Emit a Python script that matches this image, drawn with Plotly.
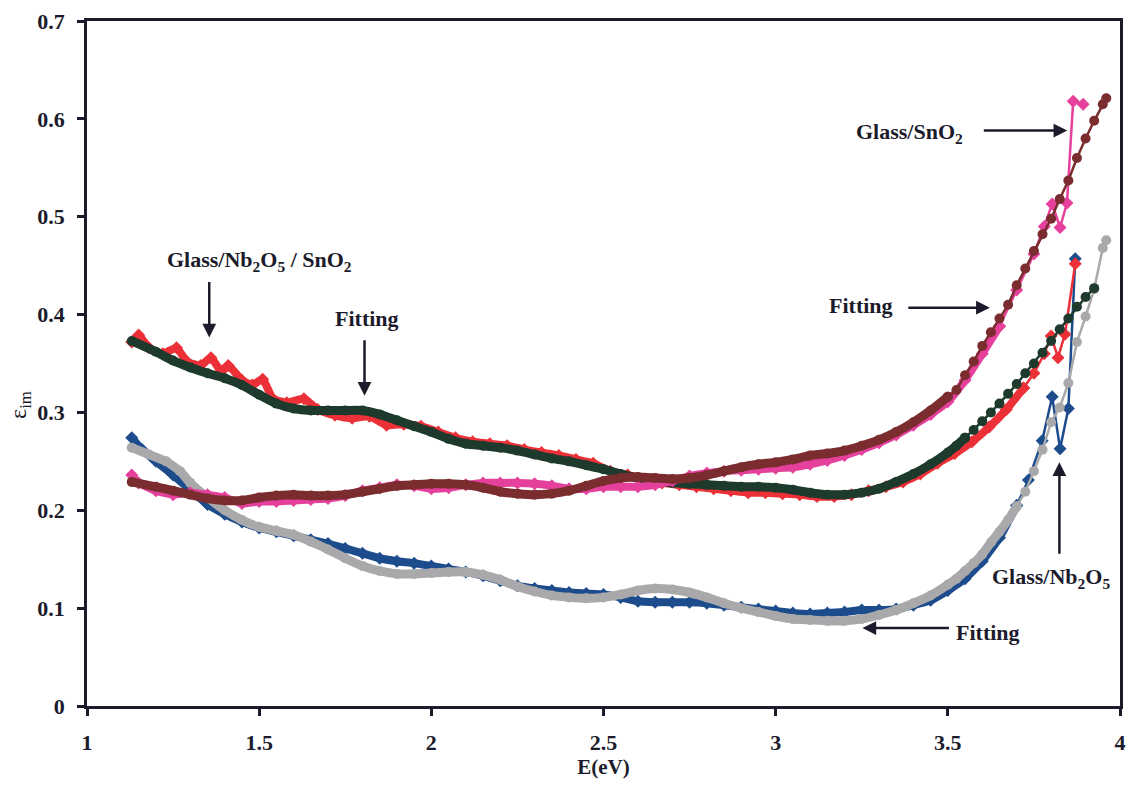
import plotly.graph_objects as go

# Photon energy grid (eV) and imaginary dielectric function values
# --- Glass/Nb2O5/SnO2: measured data and fitting ---
E_nbsn_data = [1.13, 1.15, 1.18, 1.22, 1.26, 1.29, 1.33, 1.36, 1.39, 1.41, 1.45, 1.48, 1.51, 1.54,
               1.58, 1.63, 1.67, 1.72, 1.77, 1.82, 1.87, 1.92, 1.97, 2.02, 2.07, 2.12, 2.17, 2.22,
               2.27, 2.32, 2.37, 2.42, 2.47, 2.52, 2.57, 2.62, 2.67, 2.72, 2.77, 2.82, 2.87, 2.92,
               2.97, 3.02, 3.07, 3.12, 3.17, 3.22, 3.27, 3.32, 3.37, 3.42, 3.47, 3.52, 3.57, 3.62,
               3.67, 3.72, 3.75, 3.78, 3.80, 3.82, 3.84, 3.87]
eps_nbsn_data = [0.372, 0.379, 0.366, 0.360, 0.366, 0.352, 0.348, 0.356, 0.342, 0.348, 0.333, 0.328,
                 0.334, 0.314, 0.310, 0.314, 0.303, 0.297, 0.294, 0.296, 0.287, 0.288, 0.286, 0.280,
                 0.274, 0.270, 0.268, 0.266, 0.262, 0.259, 0.256, 0.252, 0.248, 0.240, 0.236, 0.232,
                 0.228, 0.226, 0.224, 0.222, 0.220, 0.218, 0.218, 0.217, 0.216, 0.214, 0.214, 0.216,
                 0.220, 0.224, 0.229, 0.237, 0.248, 0.258, 0.270, 0.285, 0.303, 0.325, 0.340, 0.360,
                 0.378, 0.356, 0.380, 0.452]

E_nbsn_fit = [1.13, 1.20, 1.25, 1.30, 1.35, 1.40, 1.45, 1.50, 1.55, 1.60, 1.65, 1.70, 1.75, 1.80,
              1.85, 1.90, 1.95, 2.00, 2.05, 2.10, 2.15, 2.20, 2.25, 2.30, 2.35, 2.40, 2.45, 2.50,
              2.55, 2.60, 2.65, 2.70, 2.75, 2.80, 2.85, 2.90, 2.95, 3.00, 3.05, 3.10, 3.15, 3.20,
              3.25, 3.30, 3.35, 3.40, 3.45, 3.50, 3.525, 3.55, 3.575, 3.60, 3.625, 3.65, 3.675,
              3.70, 3.725, 3.75, 3.775, 3.80, 3.825, 3.85, 3.875, 3.90, 3.925]
eps_nbsn_fit = [0.373, 0.362, 0.353, 0.346, 0.340, 0.335, 0.328, 0.318, 0.309, 0.304, 0.302, 0.302,
                0.302, 0.302, 0.298, 0.292, 0.286, 0.280, 0.273, 0.268, 0.266, 0.264, 0.261, 0.257,
                0.253, 0.250, 0.246, 0.242, 0.237, 0.233, 0.230, 0.228, 0.227, 0.226, 0.225, 0.224,
                0.224, 0.223, 0.221, 0.218, 0.216, 0.216, 0.218, 0.222, 0.229, 0.237, 0.247, 0.259,
                0.266, 0.274, 0.282, 0.291, 0.300, 0.309, 0.319, 0.329, 0.340, 0.350, 0.361, 0.373,
                0.385, 0.396, 0.408, 0.418, 0.427]

# --- Glass/SnO2: measured data and fitting ---
E_sn_data = [1.13, 1.15, 1.20, 1.25, 1.30, 1.35, 1.40, 1.45, 1.50, 1.55, 1.60, 1.65, 1.70, 1.75,
             1.80, 1.85, 1.90, 1.95, 2.00, 2.05, 2.10, 2.15, 2.20, 2.25, 2.30, 2.35, 2.40, 2.45,
             2.50, 2.55, 2.60, 2.65, 2.70, 2.75, 2.80, 2.85, 2.90, 2.95, 3.00, 3.05, 3.10, 3.15,
             3.20, 3.25, 3.30, 3.35, 3.40, 3.45, 3.50, 3.55, 3.60, 3.65, 3.70, 3.75, 3.78, 3.803,
             3.826, 3.846, 3.864, 3.893]
eps_sn_data = [0.236, 0.228, 0.220, 0.216, 0.218, 0.216, 0.213, 0.207, 0.209, 0.209, 0.210, 0.211,
               0.212, 0.215, 0.220, 0.223, 0.226, 0.225, 0.222, 0.223, 0.226, 0.228, 0.228, 0.228,
               0.227, 0.225, 0.222, 0.222, 0.224, 0.224, 0.224, 0.226, 0.230, 0.235, 0.238, 0.240,
               0.241, 0.242, 0.243, 0.244, 0.247, 0.251, 0.256, 0.262, 0.269, 0.277, 0.287, 0.298,
               0.311, 0.333, 0.360, 0.388, 0.425, 0.462, 0.490, 0.513, 0.489, 0.514, 0.618, 0.615]

E_sn_fit = [1.13, 1.20, 1.25, 1.30, 1.35, 1.40, 1.45, 1.50, 1.55, 1.60, 1.65, 1.70, 1.75, 1.80,
            1.85, 1.90, 1.95, 2.00, 2.05, 2.10, 2.15, 2.20, 2.25, 2.30, 2.35, 2.40, 2.45, 2.50,
            2.55, 2.60, 2.65, 2.70, 2.75, 2.80, 2.85, 2.90, 2.95, 3.00, 3.05, 3.10, 3.15, 3.20,
            3.25, 3.30, 3.35, 3.40, 3.45, 3.50, 3.525, 3.55, 3.575, 3.60, 3.625, 3.65, 3.675,
            3.70, 3.725, 3.75, 3.775, 3.80, 3.825, 3.85, 3.875, 3.90, 3.925, 3.95, 3.96]
eps_sn_fit = [0.229, 0.224, 0.220, 0.216, 0.212, 0.210, 0.210, 0.213, 0.215, 0.216, 0.215, 0.215,
              0.216, 0.219, 0.222, 0.225, 0.226, 0.227, 0.227, 0.226, 0.223, 0.219, 0.217, 0.216,
              0.217, 0.220, 0.225, 0.230, 0.233, 0.234, 0.233, 0.232, 0.233, 0.236, 0.240, 0.244,
              0.247, 0.249, 0.252, 0.256, 0.258, 0.261, 0.266, 0.272, 0.280, 0.290, 0.302, 0.316,
              0.323, 0.338, 0.352, 0.368, 0.382, 0.396, 0.410, 0.430, 0.447, 0.465, 0.482, 0.498,
              0.518, 0.537, 0.560, 0.580, 0.598, 0.615, 0.621]

# --- Glass/Nb2O5: measured data and fitting ---
E_nb_data = [1.13, 1.16, 1.20, 1.25, 1.30, 1.35, 1.40, 1.45, 1.50, 1.55, 1.60, 1.65, 1.70, 1.75,
             1.80, 1.85, 1.90, 1.95, 2.00, 2.05, 2.10, 2.15, 2.20, 2.25, 2.30, 2.35, 2.40, 2.45,
             2.50, 2.55, 2.60, 2.65, 2.70, 2.75, 2.80, 2.85, 2.90, 2.95, 3.00, 3.05, 3.10, 3.15,
             3.20, 3.25, 3.30, 3.35, 3.40, 3.45, 3.50, 3.55, 3.60, 3.65, 3.70, 3.734, 3.774,
             3.803, 3.826, 3.85, 3.87]
eps_nb_data = [0.274, 0.262, 0.250, 0.236, 0.221, 0.206, 0.196, 0.188, 0.182, 0.178, 0.174, 0.170,
               0.166, 0.161, 0.156, 0.151, 0.148, 0.146, 0.143, 0.140, 0.137, 0.133, 0.128, 0.123,
               0.120, 0.118, 0.116, 0.115, 0.114, 0.111, 0.107, 0.106, 0.106, 0.106, 0.105, 0.103,
               0.101, 0.099, 0.097, 0.095, 0.094, 0.095, 0.096, 0.098, 0.098, 0.099, 0.103, 0.108,
               0.118, 0.130, 0.148, 0.172, 0.205, 0.231, 0.271, 0.316, 0.263, 0.304, 0.457]

E_nb_fit = [1.13, 1.18, 1.23, 1.27, 1.30, 1.35, 1.40, 1.45, 1.50, 1.55, 1.60, 1.65, 1.70, 1.75,
            1.80, 1.85, 1.90, 1.95, 2.00, 2.05, 2.10, 2.15, 2.20, 2.25, 2.30, 2.35, 2.40, 2.45,
            2.50, 2.55, 2.60, 2.65, 2.70, 2.75, 2.80, 2.85, 2.90, 2.95, 3.00, 3.05, 3.10, 3.15,
            3.20, 3.25, 3.30, 3.35, 3.40, 3.45, 3.50, 3.525, 3.55, 3.575, 3.60, 3.625, 3.65,
            3.675, 3.70, 3.725, 3.75, 3.775, 3.80, 3.825, 3.85, 3.875, 3.90, 3.925, 3.95, 3.96]
eps_nb_fit = [0.264, 0.257, 0.250, 0.240, 0.228, 0.213, 0.200, 0.190, 0.183, 0.179, 0.175, 0.168,
              0.160, 0.151, 0.143, 0.138, 0.135, 0.135, 0.136, 0.137, 0.137, 0.134, 0.129, 0.122,
              0.117, 0.113, 0.111, 0.110, 0.111, 0.114, 0.118, 0.120, 0.119, 0.116, 0.111, 0.105,
              0.100, 0.096, 0.092, 0.089, 0.088, 0.087, 0.087, 0.089, 0.093, 0.098, 0.105, 0.113,
              0.124, 0.130, 0.138, 0.146, 0.155, 0.167, 0.178, 0.190, 0.204, 0.219, 0.240, 0.262,
              0.290, 0.305, 0.330, 0.372, 0.398, 0.426, 0.468, 0.476]

x_ticks = [1, 1.5, 2, 2.5, 3, 3.5, 4]
x_tick_text = ["1", "1.5", "2", "2.5", "3", "3.5", "4"]
y_ticks = [0, 0.1, 0.2, 0.3, 0.4, 0.5, 0.6, 0.7]
y_tick_text = ["0", "0.1", "0.2", "0.3", "0.4", "0.5", "0.6", "0.7"]

INK = "#1b1b2b"
SERIF = "Liberation Serif"

fig = go.Figure()


def add_series(x, y, color, symbol, band_w, ms, cut, name):
    """Dense, overlapping part drawn as a thick band; steep tail as thin line with markers."""
    k = max(i for i, e in enumerate(x) if e <= cut)
    fig.add_trace(go.Scatter(
        x=x[:k + 1], y=y[:k + 1], name=name, mode="lines+markers",
        line=dict(color=color, width=band_w, shape="spline", smoothing=0.5),
        marker=dict(color=color, symbol=symbol, size=ms),
        showlegend=False,
    ))
    fig.add_trace(go.Scatter(
        x=x[k:], y=y[k:], name=name, mode="lines+markers",
        line=dict(color=color, width=2.5),
        marker=dict(color=color, symbol=symbol, size=ms),
        showlegend=False,
    ))


# drawing order: data under its fit; SnO2 pair on top
add_series(E_nb_data, eps_nb_data, "#1d4c8c", "diamond", 8, 10, 3.70, "Glass/Nb2O5")
add_series(E_nb_fit, eps_nb_fit, "#a9a9ab", "circle", 9, 10, 3.70, "Glass/Nb2O5 fitting")
add_series(E_nbsn_data, eps_nbsn_data, "#ec3038", "diamond", 8, 10, 3.72, "Glass/Nb2O5/SnO2")
add_series(E_nbsn_fit, eps_nbsn_fit, "#1d3a2c", "circle", 9, 10, 3.55, "Glass/Nb2O5/SnO2 fitting")
add_series(E_sn_data, eps_sn_data, "#e4409c", "diamond", 8, 10, 3.65, "Glass/SnO2")
add_series(E_sn_fit, eps_sn_fit, "#7a2c2e", "circle", 9, 10, 3.50, "Glass/SnO2 fitting")

label_font = dict(family=SERIF, size=22, color=INK, weight="bold")

# text labels
labels = [
    (1.50, 0.455, "Glass/Nb<sub>2</sub>O<sub>5</sub> / SnO<sub>2</sub>"),
    (1.814, 0.396, "Fitting"),
    (3.39, 0.586, "Glass/SnO<sub>2</sub>"),
    (3.249, 0.409, "Fitting"),
    (3.80, 0.131, "Glass/Nb<sub>2</sub>O<sub>5</sub>"),
    (3.616, 0.0755, "Fitting"),
]
for lx, ly, txt in labels:
    fig.add_annotation(x=lx, y=ly, text=txt, showarrow=False, font=label_font,
                       xanchor="center", yanchor="middle")

# arrows: (tip x, tip y, tail offset x px, tail offset y px)
arrows = [
    (1.355, 0.3765, 0, -57),
    (1.806, 0.317, 0, -57),
    (3.847, 0.588, -85, 0),
    (3.622, 0.407, -83, 0),
    (3.824, 0.249, 0, 93),
    (3.252, 0.0796, 88, 0),
]
for tx, ty, ax, ay in arrows:
    fig.add_annotation(x=tx, y=ty, ax=ax, ay=ay, text="", showarrow=True,
                       arrowhead=2, arrowsize=1.1, arrowwidth=2.5, arrowcolor=INK)

# y-axis title
fig.add_annotation(xref="paper", yref="paper", x=-0.082, y=0.44, text="ε<sub>im</sub>",
                   showarrow=False, textangle=-90,
                   font=dict(family=SERIF, size=24, color=INK))

axis_common = dict(showline=True, linecolor=INK, linewidth=2.5, mirror=True,
                   ticks="outside", ticklen=7, tickwidth=3, tickcolor=INK,
                   showgrid=False, zeroline=False,
                   tickfont=dict(family=SERIF, size=22, color=INK, weight="bold"))

fig.update_xaxes(range=[1, 4], tickvals=x_ticks, ticktext=x_tick_text,
                 title=dict(text="E(eV)", font=dict(family=SERIF, size=21, color=INK, weight="bold"),
                            standoff=2),
                 ticklabelstandoff=8, **axis_common)
fig.update_yaxes(range=[0, 0.7], tickvals=y_ticks, ticktext=y_tick_text,
                 ticklabelstandoff=8, **axis_common)

fig.update_layout(
    width=1135, height=787,
    margin=dict(l=87, r=9, t=19, b=81),
    plot_bgcolor="white", paper_bgcolor="white",
)

fig.write_html("out.html")
